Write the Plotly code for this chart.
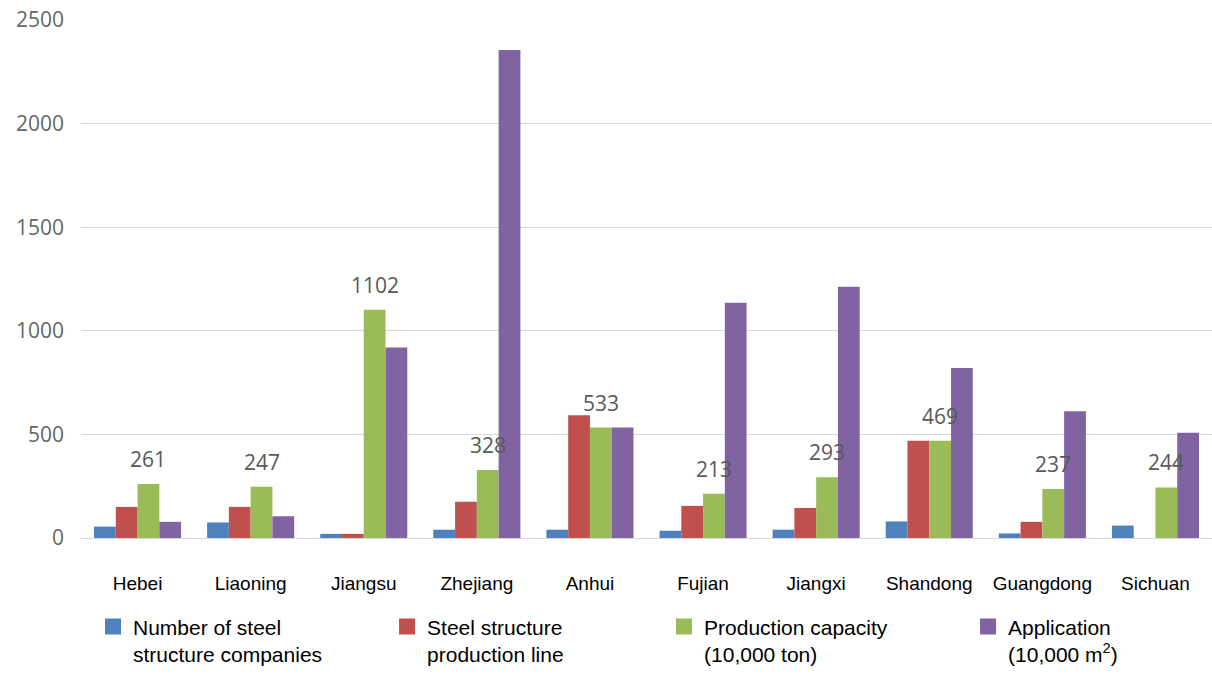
import plotly.graph_objects as go

provinces = ["Hebei", "Liaoning", "Jiangsu", "Zhejiang", "Anhui",
             "Fujian", "Jiangxi", "Shandong", "Guangdong", "Sichuan"]
companies = [55, 75, 20, 40, 40, 35, 40, 80, 22, 60]
production_lines = [150, 150, 20, 175, 592, 155, 145, 469, 78, 0]
capacity = [261, 247, 1102, 328, 533, 213, 293, 469, 237, 244]
application = [78, 105, 920, 2355, 533, 1135, 1212, 820, 612, 508]

series_names = ["Number of steel<br>structure companies",
                "Steel structure<br>production line",
                "Production capacity<br>(10,000 ton)",
                "Application<br>(10,000 m<sup>2</sup>)"]
series_values = [companies, production_lines, capacity, application]
colors = ["#4F81BD", "#C0504D", "#9BBB59", "#8064A2"]

y_ticks = [0, 500, 1000, 1500, 2000, 2500]

BARGAP = 0.23
NUM_FONT = "Open Sans"
TXT_FONT = "Liberation Sans, Arial"
legend_ids = ["legend", "legend2", "legend3", "legend4"]
legend_x = [0.0106, 0.2706, 0.5155, 0.7843]

fig = go.Figure()
for name, vals, col in zip(series_names, series_values, colors):
    fig.add_trace(go.Bar(x=provinces, y=vals, marker=dict(color=col, line=dict(width=0)),
                         showlegend=False, hoverinfo="x+y"))
# legend entries (square markers), each in its own legend box
for name, col, lid in zip(series_names, colors, legend_ids):
    fig.add_trace(go.Scatter(x=[None], y=[None], mode="markers", name=name, legend=lid,
                             marker=dict(symbol="square", size=16, color=col)))

# data labels on the capacity series (third bar in group)
bar_w = (1 - BARGAP) / 4
for i, v in enumerate(capacity):
    fig.add_annotation(x=i + 0.5 * bar_w, y=v, xref="x", yref="y", text=str(v),
                       showarrow=False, yanchor="bottom", yshift=9,
                       font=dict(family=NUM_FONT, size=21, color="#595959"))

legend_common = dict(orientation="h", xanchor="left", y=-0.132, yanchor="top",
                     valign="top", font=dict(family=TXT_FONT, size=21, color="black"),
                     bgcolor="rgba(0,0,0,0)")
legends = {lid: dict(x=lx, **legend_common) for lid, lx in zip(legend_ids, legend_x)}

fig.update_layout(
    width=1212, height=679,
    margin=dict(l=81, r=0, t=20, b=141),
    paper_bgcolor="white", plot_bgcolor="white",
    barmode="group", bargap=BARGAP, bargroupgap=0,
    xaxis=dict(type="category", showline=False, ticks="", showgrid=False,
               tickfont=dict(family=TXT_FONT, size=19, color="black"),
               ticklabelstandoff=32),
    yaxis=dict(range=[0, 2500], tickvals=y_ticks, showgrid=True, gridcolor="#D9D9D9",
               gridwidth=1, zeroline=True, zerolinecolor="#D9D9D9", zerolinewidth=1,
               showline=False, ticks="",
               tickfont=dict(family=NUM_FONT, size=21, color="#666666"),
               ticklabelstandoff=16),
    hovermode="closest",
    **legends,
)

fig.write_html("out.html")
